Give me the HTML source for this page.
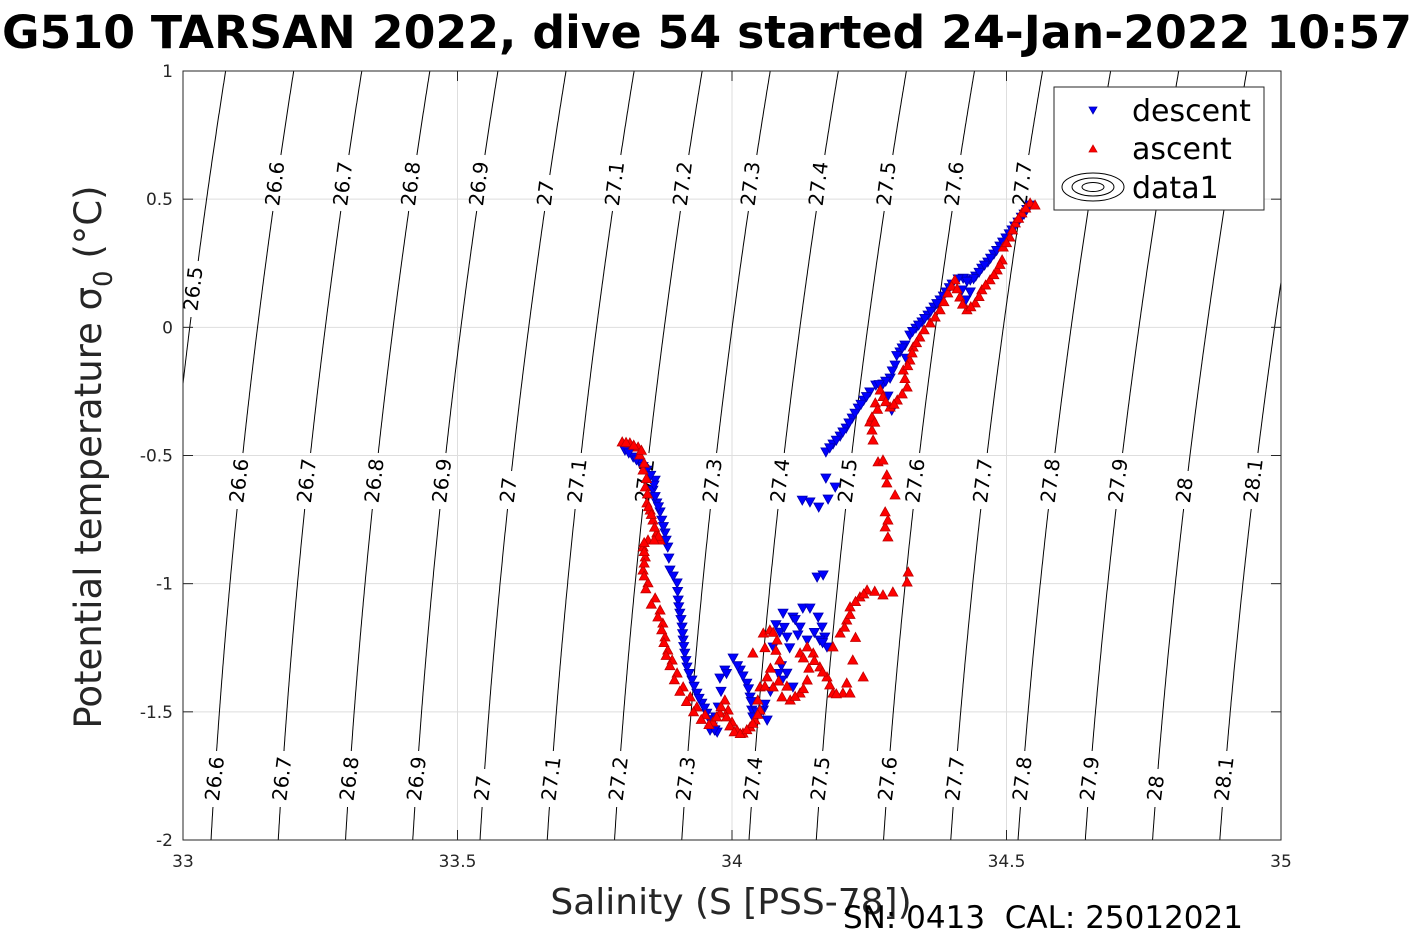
<!DOCTYPE html>
<html><head><meta charset="utf-8"><style>
html,body{margin:0;padding:0;background:#fff;}
svg{display:block;font-family:"DejaVu Sans","Liberation Sans",sans-serif;}
</style></head><body>
<svg id="chart" width="1417" height="945" viewBox="0 0 1417 945" xmlns="http://www.w3.org/2000/svg">
<defs><clipPath id="plotclip"><rect x="183" y="71" width="1098" height="769"/></clipPath></defs>
<text x="2" y="48" textLength="1410" lengthAdjust="spacingAndGlyphs" font-size="45" font-weight="bold" fill="#000">G510 TARSAN 2022, dive 54 started 24-Jan-2022 10:57</text>
<rect x="183" y="71" width="1098" height="769" fill="#fff"/>
<g id="grid"></g>
<g id="contours" clip-path="url(#plotclip)"></g>
<g id="contourLabels"></g>
<g id="descent" clip-path="url(#plotclip)"></g>
<g id="ascent" clip-path="url(#plotclip)"></g>
<rect x="183" y="71" width="1098" height="769" fill="none" stroke="#262626" stroke-width="1"/>
<g id="ticks"></g>
<text x="731" y="914" text-anchor="middle" font-size="36" fill="#262626">Salinity (S [PSS-78])</text>
<text transform="translate(101,457) rotate(-90)" text-anchor="middle" font-size="37" fill="#262626">Potential temperature σ<tspan font-size="26" dy="11">0</tspan><tspan dy="-11"> (°C)</tspan></text>
<text x="843" y="928" font-size="31" fill="#000" xml:space="preserve" style="white-space:pre">SN: 0413  CAL: 25012021</text>
<g>
<rect x="1054" y="87" width="210" height="123" fill="#fff" stroke="#262626" stroke-width="1"/>
<polygon points="1089,107 1097,107 1093,114" fill="#00f" stroke="#00a" stroke-width="0.8"/>
<text x="1132" y="121" font-size="30">descent</text>
<polygon points="1089,152 1097,152 1093,145" fill="#f00" stroke="#c00" stroke-width="0.8"/>
<text x="1132" y="159" font-size="30">ascent</text>
<g fill="none" stroke="#000" stroke-width="1">
<ellipse cx="1093" cy="187" rx="31" ry="14"/><ellipse cx="1093" cy="187" rx="21" ry="9"/><ellipse cx="1093" cy="187" rx="11" ry="4.5"/></g>
<text x="1132" y="198" font-size="30">data1</text>
</g>
</svg>
<script>
const xTicks = [33, 33.5, 34, 34.5, 35];
const xTickLabels = ["33", "33.5", "34", "34.5", "35"];
const yTicks = [1, 0.5, 0, -0.5, -1, -1.5, -2];
const yTickLabels = ["1", "0.5", "0", "-0.5", "-1", "-1.5", "-2"];
const sigmaLevels = [26.5,26.6,26.7,26.8,26.9,27,27.1,27.2,27.3,27.4,27.5,27.6,27.7,27.8,27.9,28,28.1,28.2];
const topRowLevels = [26.6,26.7,26.8,26.9,27,27.1,27.2,27.3,27.4,27.5,27.6,27.7];
const midRowLevels = [26.6,26.7,26.8,26.9,27,27.1,27.2,27.3,27.4,27.5,27.6,27.7,27.8,27.9,28,28.1];
const botRowLevels = [26.6,26.7,26.8,26.9,27,27.1,27.2,27.3,27.4,27.5,27.6,27.7,27.8,27.9,28,28.1];
const descentS = [34.543,34.532,34.521,34.510,34.499,34.488,34.477,34.466,34.455,34.444,34.434,34.421,34.412,34.419,34.426,34.434,34.401,34.390,34.379,34.368,34.357,34.346,34.335,34.324,34.315,34.306,34.317,34.297,34.288,34.275,34.262,34.284,34.291,34.251,34.240,34.230,34.219,34.208,34.197,34.184,34.171,34.171,34.188,34.175,34.158,34.142,34.128,34.155,34.166,34.093,34.111,34.129,34.142,34.157,34.164,34.169,34.173,34.124,34.137,34.100,34.087,34.075,34.100,34.111,34.091,34.064,34.057,34.051,34.002,33.987,34.015,34.027,34.033,34.036,34.038,33.978,33.975,33.969,33.960,33.805,33.820,33.832,33.845,33.860,33.856,33.863,33.869,33.872,33.878,33.883,33.887,33.900,33.902,33.905,33.909,33.911,33.914,33.918,33.927,33.936,33.945,33.954,33.964,33.973,
 34.537,34.527,34.515,34.505,34.493,34.482,34.471,34.460,34.450,34.440,34.428,34.396,34.385,34.373,34.362,34.351,34.340,34.329,34.310,34.300,34.292,34.280,34.268,34.245,34.235,34.224,34.213,34.202,34.190,34.178,
 33.812,33.826,33.838,33.852,33.858,33.860,33.866,33.875,33.880,33.885,33.893,33.901,33.903,33.907,33.910,33.912,33.916,33.922,33.931,33.940,33.950,33.959,33.968,
 34.080,34.095,34.115,34.150,34.160,34.165,34.120,34.105,34.090,34.085,34.070,34.060,34.045,34.010,34.020,34.030,34.035,33.990,33.980,33.970];
const descentT = [0.477,0.442,0.411,0.380,0.349,0.317,0.286,0.255,0.231,0.200,0.185,0.192,0.189,0.146,0.107,0.138,0.169,0.138,0.107,0.079,0.048,0.021,-0.003,-0.030,-0.069,-0.096,-0.120,-0.147,-0.198,-0.221,-0.225,-0.268,-0.323,-0.252,-0.284,-0.315,-0.354,-0.393,-0.424,-0.455,-0.486,-0.588,-0.623,-0.670,-0.701,-0.681,-0.674,-0.974,-0.966,-1.115,-1.130,-1.095,-1.095,-1.130,-1.169,-1.208,-1.247,-1.169,-1.220,-1.208,-1.189,-1.247,-1.349,-1.403,-1.376,-1.532,-1.493,-1.505,-1.290,-1.337,-1.337,-1.388,-1.442,-1.493,-1.520,-1.368,-1.481,-1.571,-1.571,-0.479,-0.506,-0.529,-0.557,-0.596,-0.635,-0.685,-0.720,-0.752,-0.802,-0.857,-0.947,-0.997,-1.064,-1.115,-1.169,-1.220,-1.271,-1.325,-1.376,-1.427,-1.466,-1.505,-1.559,-1.579,
 0.460,0.430,0.395,0.365,0.333,0.300,0.270,0.243,0.215,0.190,0.180,0.155,0.122,0.093,0.063,0.035,0.009,-0.016,-0.080,-0.110,-0.170,-0.210,-0.223,-0.270,-0.300,-0.335,-0.373,-0.408,-0.440,-0.470,
 -0.490,-0.517,-0.543,-0.577,-0.615,-0.660,-0.700,-0.777,-0.830,-0.900,-0.970,-1.030,-1.090,-1.140,-1.195,-1.245,-1.300,-1.350,-1.400,-1.447,-1.485,-1.530,-1.570,
 -1.160,-1.170,-1.140,-1.190,-1.220,-1.230,-1.200,-1.250,-1.320,-1.350,-1.420,-1.470,-1.500,-1.320,-1.360,-1.410,-1.460,-1.350,-1.420,-1.520];
const ascentS = [33.800,33.814,33.829,33.832,33.838,33.842,33.845,33.851,33.856,33.863,33.869,33.847,33.838,33.842,33.838,33.847,33.860,33.869,33.874,33.878,33.883,33.891,33.900,33.911,33.924,33.936,33.951,33.965,33.978,33.987,33.993,34.000,34.009,34.020,34.033,34.042,34.051,34.047,34.051,34.064,34.038,34.057,34.069,34.082,34.087,34.075,34.091,34.106,34.124,34.137,34.124,34.137,34.148,34.160,34.173,34.184,34.202,34.215,34.209,34.239,34.220,34.184,34.197,34.209,34.215,34.233,34.246,34.275,34.293,34.321,34.319,34.284,34.279,34.284,34.279,34.297,34.282,34.282,34.266,34.275,34.257,34.255,34.251,34.255,34.261,34.270,34.288,34.301,34.319,34.312,34.324,34.330,34.342,34.361,34.379,34.393,34.406,34.415,34.428,34.443,34.455,34.470,34.483,34.492,34.494,34.506,34.516,34.528,34.543,34.552,
 33.807,33.821,33.835,33.840,33.844,33.846,33.848,33.853,33.859,33.866,33.858,33.840,33.840,33.840,33.840,33.843,33.853,33.865,33.872,33.876,33.880,33.887,33.895,33.905,33.917,33.930,33.944,33.958,33.972,33.980,33.990,33.996,34.004,34.015,34.027,34.038,34.047,
 34.060,34.075,34.080,34.070,34.060,34.085,34.100,34.115,34.130,34.140,34.130,34.150,34.165,34.178,34.190,34.225,34.205,34.215,34.225,34.240,34.260,
 34.260,34.265,34.275,34.280,34.295,34.310,34.315,34.320,34.328,34.336,34.350,34.370,34.386,34.400,34.410,34.420,34.435,34.450,34.462,34.477,34.488,34.500,34.511,34.522,34.535];
const ascentT = [-0.447,-0.451,-0.467,-0.498,-0.557,-0.623,-0.685,-0.713,-0.752,-0.802,-0.830,-0.830,-0.857,-0.896,-0.947,-0.997,-1.056,-1.103,-1.154,-1.208,-1.259,-1.298,-1.349,-1.403,-1.442,-1.481,-1.512,-1.540,-1.505,-1.454,-1.493,-1.540,-1.571,-1.583,-1.559,-1.532,-1.493,-1.454,-1.403,-1.364,-1.271,-1.193,-1.181,-1.220,-1.298,-1.403,-1.442,-1.454,-1.427,-1.376,-1.271,-1.247,-1.271,-1.325,-1.364,-1.427,-1.427,-1.427,-1.388,-1.364,-1.298,-1.247,-1.193,-1.142,-1.091,-1.052,-1.025,-1.044,-1.033,-0.955,-0.994,-0.818,-0.779,-0.752,-0.720,-0.654,-0.607,-0.576,-0.525,-0.518,-0.440,-0.401,-0.369,-0.350,-0.295,-0.245,-0.311,-0.284,-0.233,-0.167,-0.128,-0.077,-0.038,0.017,0.068,0.134,0.185,0.118,0.068,0.095,0.146,0.185,0.224,0.263,0.313,0.352,0.407,0.446,0.485,0.477,
 -0.449,-0.460,-0.480,-0.530,-0.590,-0.650,-0.700,-0.730,-0.780,-0.815,-0.830,-0.840,-0.875,-0.920,-0.970,-1.020,-1.080,-1.130,-1.180,-1.230,-1.280,-1.320,-1.375,-1.420,-1.460,-1.500,-1.530,-1.550,-1.520,-1.480,-1.520,-1.555,-1.578,-1.585,-1.570,-1.545,-1.510,
 -1.250,-1.190,-1.260,-1.330,-1.400,-1.380,-1.400,-1.440,-1.410,-1.330,-1.290,-1.300,-1.345,-1.395,-1.430,-1.210,-1.170,-1.120,-1.070,-1.040,-1.030,
 -0.370,-0.320,-0.270,-0.290,-0.300,-0.260,-0.200,-0.150,-0.100,-0.060,-0.010,0.040,0.100,0.160,0.150,0.090,0.080,0.120,0.165,0.205,0.245,0.330,0.380,0.425,0.465];

const NS="http://www.w3.org/2000/svg";
const X0=183,X1=1281,Y0=71,Y1=840;
function sx(S){return X0+(S-33)/2*(X1-X0);}
function sy(T){return Y0+(1-T)/3*(Y1-Y0);}
function tFromY(y){return 1-(y-Y0)/(Y1-Y0)*3;}
function isoS(sig,T){
  const base=33.051+0.0377*(T+2)+0.00784*(T+2)*(T+0.596);
  return base+(sig-26.6)*10*(0.1235+0.0005*T);
}
function mk(tag,attrs,parent){const e=document.createElementNS(NS,tag);for(const k in attrs)e.setAttribute(k,attrs[k]);parent.appendChild(e);return e;}

const grid=document.getElementById('grid'), ticks=document.getElementById('ticks');
xTicks.forEach((v,i)=>{
  const x=sx(v);
  const g=mk('line',{x1:x,x2:x,y1:Y0,y2:Y1,stroke:'#dedede','stroke-width':1},grid);
  
  
  mk('line',{x1:x,x2:x,y1:Y1,y2:Y1-10,stroke:'#262626'},ticks);
  mk('line',{x1:x,x2:x,y1:Y0,y2:Y0+10,stroke:'#262626'},ticks);
  const t=mk('text',{x:x,y:Y1+27,'text-anchor':'middle','font-size':17,fill:'#262626'},ticks);
  t.textContent=xTickLabels[i];
  
  
});
yTicks.forEach((v,i)=>{
  const y=sy(v);
  const g=mk('line',{x1:X0,x2:X1,y1:y,y2:y,stroke:'#dedede','stroke-width':1},grid);
  
  
  mk('line',{x1:X0,x2:X0+10,y1:y,y2:y,stroke:'#262626'},ticks);
  mk('line',{x1:X1,x2:X1-10,y1:y,y2:y,stroke:'#262626'},ticks);
  const t=mk('text',{x:X0-10,y:y+6,'text-anchor':'end','font-size':17,fill:'#262626'},ticks);
  t.textContent=yTickLabels[i];
  
  
});

const labG=document.getElementById('contourLabels');
const gaps={};
const ang=-83;
function placeLabel(sig,yb){
  const x=sx(isoS(sig,tFromY(yb)));
  if(x<X0+5||x>X1-5)return;
  const t=mk('text',{x:x,y:yb,'font-size':20,fill:'#000','dominant-baseline':'middle',transform:`rotate(${ang} ${x} ${yb})`},labG);
  t.textContent=String(sig);
  
  
  const L=t.getComputedTextLength()*Math.cos(7*Math.PI/180);
  (gaps[sig]=gaps[sig]||[]).push([yb-L-5,yb+5]);
}
placeLabel(26.5,311);
topRowLevels.forEach(s=>placeLabel(s,206));
midRowLevels.forEach(s=>placeLabel(s,503));
botRowLevels.forEach(s=>placeLabel(s,801));

const cg=document.getElementById('contours');
sigmaLevels.forEach(sig=>{
  let d='',pen=false;
  for(let y=Y0-4;y<=Y1+4;y+=2){
    const inGap=(gaps[sig]||[]).some(g=>y>g[0]&&y<g[1]);
    if(inGap){pen=false;continue;}
    const x=sx(isoS(sig,tFromY(y)));
    d+=(pen?'L':'M')+x.toFixed(1)+' '+y+' ';pen=true;
  }
  const p=mk('path',{d:d,fill:'none',stroke:'#000','stroke-width':1},cg);
  
  
});

function drawSeries(id,Sa,Ta,down,fill,stroke,name){
  const g=document.getElementById(id);
  for(let i=0;i<Sa.length;i++){
    const x=sx(Sa[i]),y=sy(Ta[i]);
    const pts=down?`${x-5},${y-4} ${x+5},${y-4} ${x},${y+5}`:`${x-5},${y+4} ${x+5},${y+4} ${x},${y-5}`;
    const p=mk('polygon',{points:pts,fill:fill,stroke:stroke,'stroke-width':0.8},g);
    
    
  }
}
drawSeries('descent',descentS,descentT,true,'#0000ff','#0000b0','descent-point');
drawSeries('ascent',ascentS,ascentT,false,'#ff0000','#c00000','ascent-point');
</script>
</body></html>
